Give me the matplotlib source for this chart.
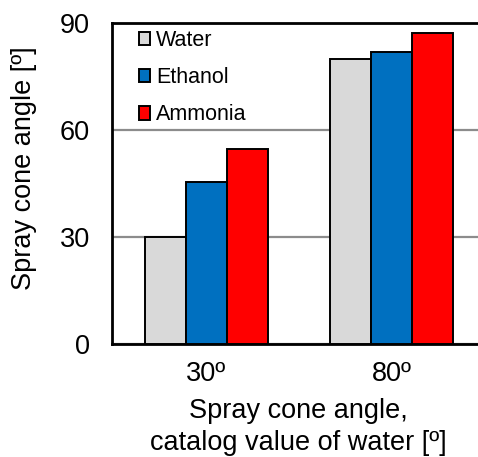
import numpy as np
import matplotlib
matplotlib.use("Agg")
import matplotlib.pyplot as plt

plt.rcParams['font.family'] = ['Liberation Sans', 'DejaVu Sans']

categories = ['30º', '80º']
series = ['Water', 'Ethanol', 'Ammonia']
water = [30, 80]
ethanol = [45.3, 81.9]
ammonia = [54.8, 87.1]
colors = ['#D9D9D9', '#0070C0', '#FF0000']

fig = plt.figure(figsize=(4.78, 4.57), dpi=100)
ax = fig.add_axes([112 / 478, 113 / 457, 372 / 478, 321 / 457])

x = np.arange(len(categories))
w = 0.222
for i, (vals, name) in enumerate(zip([water, ethanol, ammonia], series)):
    ax.bar(x + (i - 1) * w, vals, w, color=colors[i], edgecolor='black',
           linewidth=1.4, label=name, zorder=3)

ax.set_xlim(-0.51, 1.5)
ax.set_ylim(0, 90)
ax.set_yticks([0, 30, 60, 90])
ax.set_xticks(x)
ax.set_xticklabels(categories)
ax.tick_params(axis='y', labelsize=19.5, length=0, pad=16)
ax.tick_params(axis='x', labelsize=19.5, length=0, pad=12)
ax.yaxis.grid(True, color='#8C8C8C', linewidth=1.6, zorder=0)
for s in ax.spines.values():
    s.set_linewidth(2)
    s.set_color('black')

ax.set_ylabel('Spray cone angle [º]', fontsize=19.5)
ax.yaxis.set_label_coords(-0.202, 0.548)
ax.set_xlabel('Spray cone angle,\ncatalog value of water [º]', fontsize=19.5,
              labelpad=8, linespacing=1.3)

ax.legend(loc='upper left', bbox_to_anchor=(139 / 478, 1 - 30 / 457),
          bbox_transform=fig.transFigure, frameon=False, fontsize=15.5,
          handlelength=0.5, handleheight=0.6, handletextpad=0.3,
          labelspacing=0.75, borderpad=0, borderaxespad=0)

fig.savefig('out.png', dpi=100)
